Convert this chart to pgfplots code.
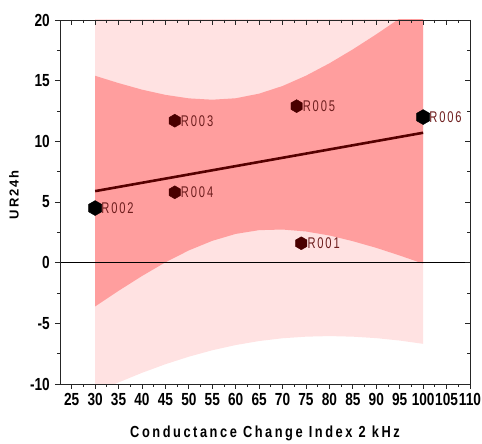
\documentclass[border=0pt]{standalone}
\usepackage{fontspec}
\usepackage{pgfplots}
\pgfplotsset{compat=1.18}
\setmainfont{Liberation Sans}
\newfontfamily\tickfont{Liberation Sans}[FakeStretch=0.78]
\newfontfamily\xlabfont{Liberation Sans}[FakeStretch=0.8,LetterSpace=16]
\newfontfamily\ylabfont{Liberation Sans}[LetterSpace=15]
\newfontfamily\ptfont{Liberation Sans}[FakeStretch=0.72,LetterSpace=12]
\newcommand\tk[1]{{\tickfont\bfseries\fontsize{17.5}{17.5}\selectfont #1}}

\definecolor{predband}{HTML}{FFE2E2}
\definecolor{confband}{HTML}{FF9E9E}
\definecolor{fitline}{HTML}{560000}
\definecolor{ptcol}{HTML}{4A0000}
\definecolor{ptlab}{HTML}{6E1E1E}

% hexagonal plot mark, pointed at top and bottom
\pgfdeclareplotmark{hexagon}{%
  \pgfpathmoveto{\pgfqpointpolar{30}{\pgfplotmarksize}}%
  \pgfpathlineto{\pgfqpointpolar{90}{\pgfplotmarksize}}%
  \pgfpathlineto{\pgfqpointpolar{150}{\pgfplotmarksize}}%
  \pgfpathlineto{\pgfqpointpolar{210}{\pgfplotmarksize}}%
  \pgfpathlineto{\pgfqpointpolar{270}{\pgfplotmarksize}}%
  \pgfpathlineto{\pgfqpointpolar{330}{\pgfplotmarksize}}%
  \pgfpathclose\pgfusepathqfillstroke}

% observations
\pgfplotstableread{
x   y    label
47  11.7 R003
47  5.8  R004
73  12.9 R005
74  1.6  R001
}\obsA
\pgfplotstableread{
x   y    label
30  4.5  R002
100 12.0 R006
}\obsB

% 95% prediction band (upper then lower, traced as one polygon)
\pgfplotstableread{
x    y
30   22.53
35   22.35
40   22.24
45   22.22
50   22.29
55   22.45
60   22.71
65   23.07
70   23.52
75   24.07
80   24.72
85   25.45
90   26.26
95   27.15
100  28.10
100  -6.69
95   -6.42
90   -6.22
85   -6.10
80   -6.05
75   -6.10
70   -6.23
65   -6.46
60   -6.79
55   -7.22
50   -7.75
45   -8.37
40   -9.08
35   -9.87
30   -10.74
}\predband

% 95% confidence band of the fit
\pgfplotstableread{
x    y
30   15.40
35   14.80
40   14.26
45   13.83
50   13.54
55   13.43
60   13.55
65   13.93
70   14.56
75   15.41
80   16.43
85   17.58
90   18.82
95   20.13
100  21.49
100  -0.08
95   0.59
90   1.22
85   1.77
80   2.24
75   2.57
70   2.73
65   2.68
60   2.37
55   1.80
50   1.01
45   0.03
40   -1.10
35   -2.32
30   -3.61
}\confband

\begin{document}
\begin{tikzpicture}
\pgfplotsset{
  baseax/.style={
    scale only axis, width=410pt, height=364pt,
    xmin=22.5, xmax=110, ymin=-10, ymax=20,
    xtick={25,30,...,110}, ytick={-10,-5,...,20},
    minor x tick num=1, minor y tick num=1,
    major tick length=5pt, minor tick length=3pt,
    axis line style={line width=0.9pt, black!85},
    every tick/.style={line width=0.8pt, black!85},
  },
  ptlabels/.style={
    nodes near coords, point meta=explicit symbolic,
    nodes near coords style={anchor=west, xshift=5.5pt, inner sep=0.5pt,
      text=ptlab, font=\ptfont\fontsize{15.5}{15.5}\selectfont}},
}
\begin{axis}[baseax,
  tick pos=left, tick align=outside,
  xticklabels={\tk{25},\tk{30},\tk{35},\tk{40},\tk{45},\tk{50},\tk{55},\tk{60},
    \tk{65},\tk{70},\tk{75},\tk{80},\tk{85},\tk{90},\tk{95},\tk{100},\tk{105},\tk{110}},
  yticklabels={\tk{-10},\tk{-5},\tk{0},\tk{5},\tk{10},\tk{15},\tk{20}},
  xticklabel style={inner sep=2pt, yshift=-2.5pt},
  yticklabel style={inner sep=2.5pt, xshift=-2.5pt},
  xlabel={\xlabfont\bfseries\fontsize{16}{16}\selectfont Conductance Change Index 2 kHz},
  ylabel={\ylabfont\bfseries\fontsize{13}{13}\selectfont UR24h},
  xlabel style={at={(axis description cs:0.5,0)}, anchor=base, yshift=-54pt},
  ylabel style={at={(axis description cs:-0.112,0.52)}, anchor=center},
]
\addplot[fill=predband, draw=none] table {\predband} --cycle;
\addplot[fill=confband, draw=none] table {\confband} --cycle;
\addplot[black, line width=0.7pt] coordinates {(22.5,0) (110,0)};
\addplot[fitline, line width=2.6pt] coordinates {(30,5.896) (100,10.706)};
\addplot[only marks, mark=hexagon, mark size=6.5pt, color=ptcol, ptlabels]
  table[meta=label] {\obsA};
\addplot[only marks, mark=hexagon, mark size=7.5pt, color=black, ptlabels]
  table[meta=label] {\obsB};
\end{axis}
\begin{axis}[baseax,
  tick pos=right, tick align=inside,
  xticklabels={}, yticklabels={},
]
\addplot[draw=none] coordinates {(30,0)};
\end{axis}
\pgfresetboundingbox
\path[use as bounding box] ([xshift=-60pt,yshift=-60pt]current axis.south west)
  rectangle ([xshift=12pt,yshift=20pt]current axis.north east);
\end{tikzpicture}
\end{document}
